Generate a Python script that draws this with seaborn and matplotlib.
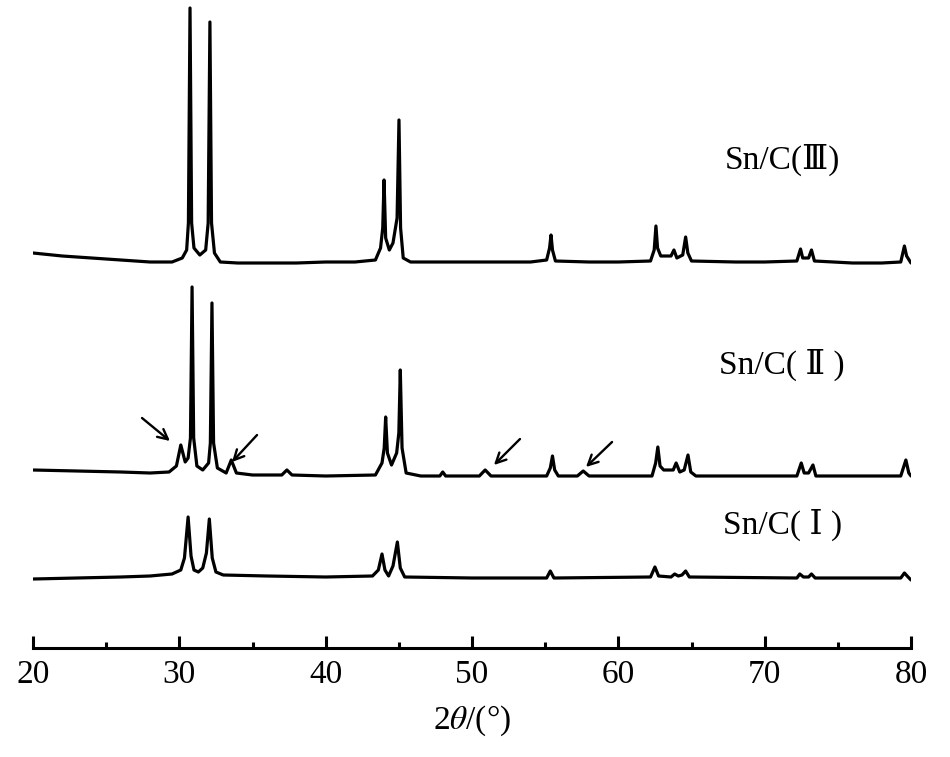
import matplotlib
matplotlib.use("Agg")
import matplotlib.pyplot as plt
import seaborn as sns
import pandas as pd

# ---- data (2theta in degrees, intensity in arbitrary units incl. vertical offset) ----
x_III = [20.0, 22.0, 24.0, 26.0, 28.0, 29.5, 30.2, 30.5, 30.62, 30.73, 30.84, 31.0, 31.4, 31.8,
         31.97, 32.09, 32.2, 32.4, 32.8, 34.0, 36.0, 38.0, 40.0, 42.0, 43.4, 43.75, 43.9, 43.99,
         44.1, 44.35, 44.6, 44.88, 45.01, 45.12, 45.3, 45.8, 48.0, 50.0, 52.0, 54.0, 55.1, 55.3,
         55.4, 55.5, 55.7, 58.0, 60.0, 62.2, 62.45, 62.57, 62.68, 62.9, 63.6, 63.8, 64.0, 64.4,
         64.6, 64.75, 65.0, 68.0, 70.0, 72.2, 72.45, 72.6, 73.0, 73.2, 73.4, 76.0, 78.0, 79.3,
         79.55, 79.7, 80.0]
y_III = [395, 392, 390, 388, 386, 386, 390, 398, 425, 640, 425, 400, 393, 398,
         425, 626, 425, 395, 386, 385, 385, 385, 386, 386, 388, 400, 420, 468,
         410, 398, 405, 430, 528, 420, 390, 386, 386, 386, 386, 386, 388, 400,
         413, 398, 387, 386, 386, 387, 398, 422, 400, 392, 392, 398, 390, 393,
         411, 395, 387, 386, 386, 387, 399, 390, 390, 398, 387, 385, 385, 386,
         402, 392, 385]

x_II = [20.0, 23.0, 26.0, 28.0, 29.3, 29.8, 30.1, 30.4, 30.6, 30.76, 30.87, 30.98, 31.2, 31.6,
        32.0, 32.12, 32.23, 32.34, 32.6, 33.2, 33.55, 33.9, 35.0, 37.0, 37.35, 37.7, 40.0, 43.4,
        43.85, 44.0, 44.1, 44.22, 44.5, 44.85, 45.0, 45.1, 45.22, 45.5, 46.5, 47.8, 48.0, 48.2,
        50.5, 50.9, 51.3, 55.1, 55.35, 55.5, 55.65, 55.9, 57.2, 57.6, 58.0, 62.3, 62.55, 62.7,
        62.85, 63.1, 63.75, 63.95, 64.2, 64.5, 64.76, 64.95, 65.3, 72.2, 72.5, 72.7, 73.0, 73.3,
        73.5, 79.3, 79.65, 79.85, 80.0]
y_II = [178, 177, 176, 175, 176, 182, 203, 186, 190, 210, 361, 210, 182, 178,
        185, 205, 345, 205, 180, 175, 188, 175, 173, 173, 178, 173, 172, 173,
        185, 200, 231, 195, 183, 195, 215, 278, 200, 175, 172, 172, 176, 172,
        172, 178, 172, 172, 180, 192, 178, 172, 172, 177, 172, 172, 185, 201,
        182, 178, 178, 185, 176, 178, 193, 176, 172, 172, 185, 175, 175, 183,
        172, 172, 188, 175, 172]

x_I = [20.0, 23.0, 26.0, 28.0, 29.5, 30.1, 30.35, 30.6, 30.8, 31.0, 31.3, 31.6, 31.85, 32.05,
       32.25, 32.5, 33.0, 36.0, 40.0, 43.2, 43.6, 43.85, 44.05, 44.3, 44.6, 44.9, 45.1, 45.4,
       50.0, 55.1, 55.35, 55.6, 62.2, 62.5, 62.75, 63.6, 63.85, 64.1, 64.35, 64.6, 64.85, 72.2,
       72.4, 72.65, 73.0, 73.2, 73.45, 79.3, 79.55, 79.8, 80.0]
y_I = [69, 70, 71, 72, 74, 78, 90, 131, 92, 78, 76, 80, 95, 129,
       90, 76, 73, 72, 71, 72, 78, 94, 78, 72, 82, 106, 80, 71,
       70, 70, 77, 70, 71, 81, 72, 71, 74, 72, 73, 77, 71, 70,
       74, 71, 71, 74, 70, 70, 75, 71, 68]

sample_labels = ["Sn/C(\u2162)", "Sn/C( \u2161 )", "Sn/C( \u2160 )"]
label_y = [488, 283, 123]
label_x = 71.2

x_ticks = [20, 30, 40, 50, 60, 70, 80]
x_minor = [25, 35, 45, 55, 65, 75]

# arrows on Sn/C(II): (tail x, tail y, head x, head y)
arrow_tail_x = [27.45, 35.31, 53.28, 59.57]
arrow_tail_y = [230, 213, 209, 206]
arrow_head_x = [29.36, 33.6, 51.5, 57.79]
arrow_head_y = [207, 186, 183, 181]

# ---- plotting ----
sns.set_theme(style="white")
plt.rcParams["font.family"] = ["Liberation Serif", "DejaVu Serif"]
plt.rcParams["mathtext.fontset"] = "stix"
plt.rcParams["text.color"] = "black"
plt.rcParams["axes.labelcolor"] = "black"
plt.rcParams["xtick.color"] = "black"

fig = plt.figure(figsize=(9.5, 7.57), dpi=100)
ax = fig.add_axes([33 / 950, 109 / 757, 878 / 950, 648 / 757])

series = [(x_III, y_III), (x_II, y_II), (x_I, y_I)]
for xs, ys in series:
    df = pd.DataFrame({"two_theta": xs, "intensity": ys})
    sns.lineplot(data=df, x="two_theta", y="intensity", ax=ax, color="black",
                 linewidth=2.3, sort=False, estimator=None)

for lab, ly in zip(sample_labels, label_y):
    ax.text(label_x, ly, lab, ha="center", va="center", fontsize=24, color="black",
            family=["Liberation Serif", "DejaVu Serif"])

for tx, ty, hx, hy in zip(arrow_tail_x, arrow_tail_y, arrow_head_x, arrow_head_y):
    ax.annotate("", xy=(hx, hy), xytext=(tx, ty),
                arrowprops=dict(arrowstyle="->,head_length=0.6,head_width=0.3",
                                color="black", lw=1.7, shrinkA=0, shrinkB=0))

ax.set_xlim(20, 80)
ax.set_ylim(0, 648)
ax.set_xticks(x_ticks)
ax.set_xticks(x_minor, minor=True)
ax.set_xticklabels([str(t) for t in x_ticks])
ax.set_yticks([])
for s in ["left", "right", "top"]:
    ax.spines[s].set_visible(False)
ax.spines["bottom"].set_linewidth(2.2)
ax.spines["bottom"].set_color("black")
ax.tick_params(axis="x", which="major", direction="in", length=9, width=2.2,
               labelsize=24, pad=8, colors="black", bottom=True)
ax.tick_params(axis="x", which="minor", direction="in", length=4.5, width=2.2,
               bottom=True, colors="black")
ax.set_xlabel("2$\\theta$/(°)", fontsize=24, labelpad=10, color="black")
ax.set_ylabel("")

fig.savefig("out.png", dpi=100)
